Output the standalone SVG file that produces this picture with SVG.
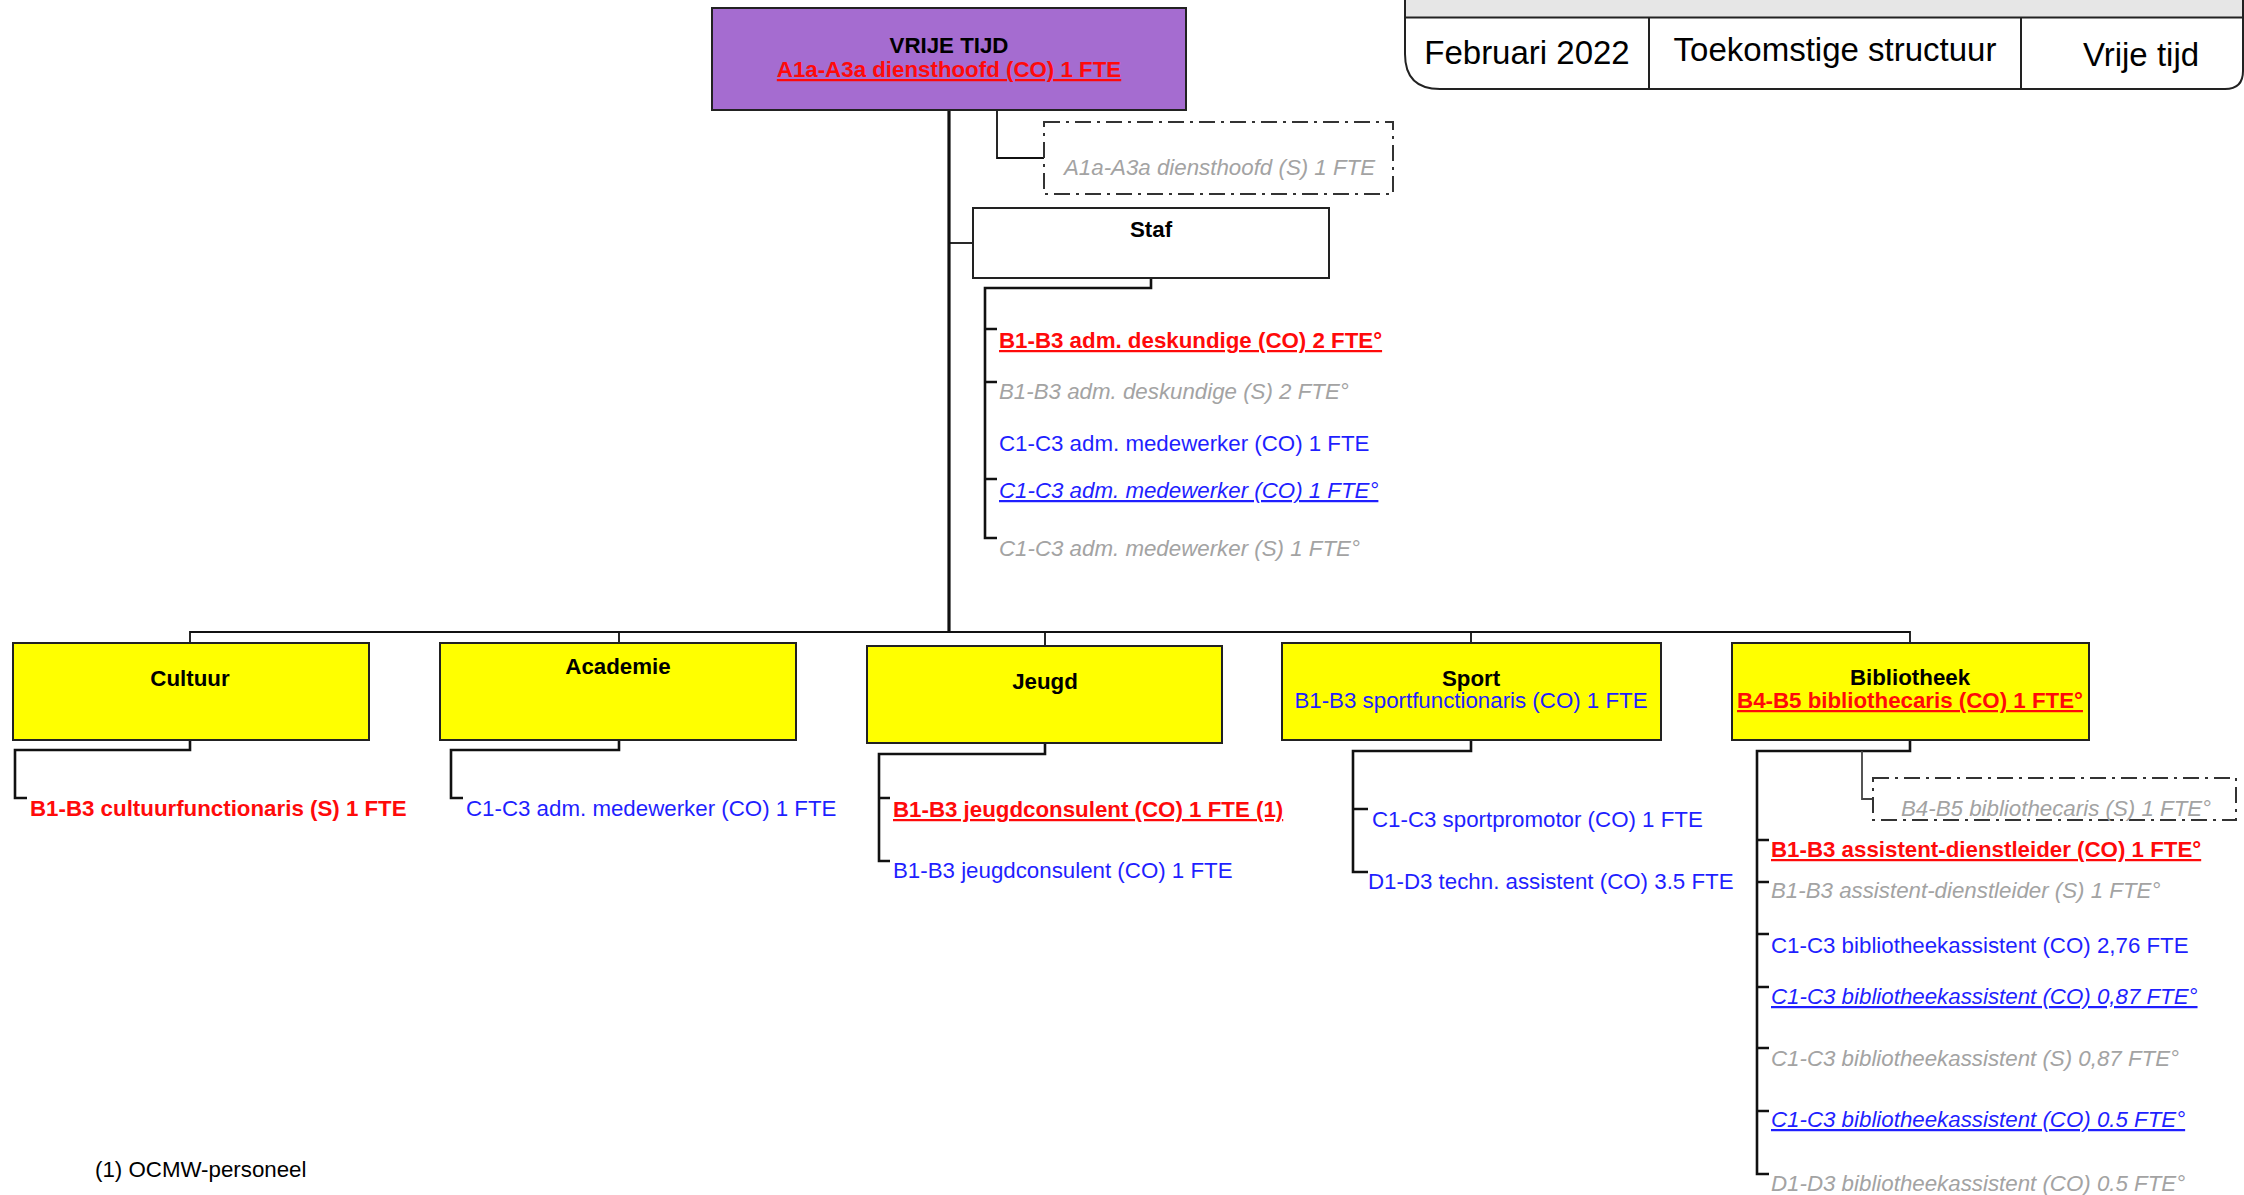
<svg xmlns="http://www.w3.org/2000/svg" width="2244" height="1195" viewBox="0 0 2244 1195">
<style>
text { font-family: "Liberation Sans", Arial, sans-serif; font-size: 22.3px; fill: #000; }
.b { font-weight: bold; }
.mid { text-anchor: middle; }
.red { fill: #ff0a0a; font-weight: bold; }
.blue { fill: #1f1fff; }
.gray { fill: #a3a3a3; font-style: italic; }
.it { font-style: italic; }
.u { text-decoration: underline; }
.dept { fill: #ffff00; stroke: #222; stroke-width: 2; }
.conn path { fill: none; stroke: #111; }
.thick { stroke-width: 3.2; }
.med { stroke-width: 2.6; }
.thin { stroke-width: 1.8; }
.dash { fill: #fff; stroke: #333; stroke-width: 2; stroke-dasharray: 16 6 3 6; }
.hdr { font-size: 33px; text-anchor: middle; }
</style>

<g id="header">
  <rect x="1405" y="0" width="838" height="17" fill="#e6e6e6"/>
  <path d="M1405,0 V54 Q1405,89 1440,89 H2225 Q2243,89 2243,71 V0" fill="none" stroke="#222" stroke-width="2"/>
  <path d="M1405,17.5 H2243 M1649,17.5 V89 M2021,17.5 V89" fill="none" stroke="#222" stroke-width="2"/>
  <text class="hdr" x="1527" y="64">Februari 2022</text>
  <text class="hdr" x="1835" y="61">Toekomstige structuur</text>
  <text class="hdr" x="2141" y="66">Vrije tijd</text>
</g>

<g class="conn" id="connectors">
  <path class="thick" d="M949,110 V632"/>
  <path class="thin" d="M997,110 V158 H1044"/>
  <path class="thin" d="M949,243 H973"/>
  <path class="med" d="M1151,278 V288 H985 V538 H997 M985,329 H997 M985,382 H997 M985,479 H997"/>
  <path class="thin" d="M190,642 V632 H1910 V643 M619,632 V642 M1045,632 V645 M1471,632 V643"/>
  <path class="med" d="M190,740 V750 H15 V798 H27"/>
  <path class="med" d="M619,740 V750 H451 V798 H463"/>
  <path class="med" d="M1045,743 V754 H879 V861 H890 M879,798 H890"/>
  <path class="med" d="M1471,740 V751 H1353 V872 H1368 M1353,809 H1368"/>
  <path class="med" d="M1910,740 V751 H1757 V1174 H1769 M1757,840 H1769 M1757,882 H1769 M1757,934 H1769 M1757,987 H1769 M1757,1048 H1769 M1757,1111 H1769"/>
  <path class="thin" d="M1862,751 V799 H1873" style="stroke:#444"/>
</g>

<g id="vrije-tijd">
  <rect x="712" y="8" width="474" height="102" fill="#a56cd0" stroke="#222" stroke-width="2"/>
  <text class="b mid" x="949" y="53">VRIJE TIJD</text>
  <text class="red u mid" x="949" y="77">A1a-A3a diensthoofd (CO) 1 FTE</text>
</g>

<g id="diensthoofd-s">
  <rect class="dash" x="1044" y="122" width="349" height="72"/>
  <text class="gray" x="1064" y="175">A1a-A3a diensthoofd (S) 1 FTE</text>
</g>

<g id="staf">
  <rect x="973" y="208" width="356" height="70" fill="#fff" stroke="#222" stroke-width="2"/>
  <text class="b mid" x="1151" y="237">Staf</text>
  <text class="red u" x="999" y="348">B1-B3 adm. deskundige (CO) 2 FTE°</text>
  <text class="gray" x="999" y="399">B1-B3 adm. deskundige (S) 2 FTE°</text>
  <text class="blue" x="999" y="451">C1-C3 adm. medewerker (CO) 1 FTE</text>
  <text class="blue it u" x="999" y="498">C1-C3 adm. medewerker (CO) 1 FTE°</text>
  <text class="gray" x="999" y="556">C1-C3 adm. medewerker (S) 1 FTE°</text>
</g>

<g id="cultuur">
  <rect class="dept" x="13" y="643" width="356" height="97"/>
  <text class="b mid" x="190" y="686">Cultuur</text>
  <text class="red" x="30" y="816">B1-B3 cultuurfunctionaris (S) 1 FTE</text>
</g>

<g id="academie">
  <rect class="dept" x="440" y="643" width="356" height="97"/>
  <text class="b mid" x="618" y="674">Academie</text>
  <text class="blue" x="466" y="816">C1-C3 adm. medewerker (CO) 1 FTE</text>
</g>

<g id="jeugd">
  <rect class="dept" x="867" y="646" width="355" height="97"/>
  <text class="b mid" x="1045" y="689">Jeugd</text>
  <text class="red u" x="893" y="817">B1-B3 jeugdconsulent (CO) 1 FTE (1)</text>
  <text class="blue" x="893" y="878">B1-B3 jeugdconsulent (CO) 1 FTE</text>
</g>

<g id="sport">
  <rect class="dept" x="1282" y="643" width="379" height="97"/>
  <text class="b mid" x="1471" y="686">Sport</text>
  <text class="blue mid" x="1471" y="708">B1-B3 sportfunctionaris (CO) 1 FTE</text>
  <text class="blue" x="1372" y="827">C1-C3 sportpromotor (CO) 1 FTE</text>
  <text class="blue" x="1368" y="889">D1-D3 techn. assistent (CO) 3.5 FTE</text>
</g>

<g id="bibliotheek">
  <rect class="dept" x="1732" y="643" width="357" height="97"/>
  <text class="b mid" x="1910" y="685">Bibliotheek</text>
  <text class="red u mid" x="1910" y="708">B4-B5 bibliothecaris (CO) 1 FTE°</text>
  <text class="red u" x="1771" y="857">B1-B3 assistent-dienstleider (CO) 1 FTE°</text>
  <text class="gray" x="1771" y="898">B1-B3 assistent-dienstleider (S) 1 FTE°</text>
  <text class="blue" x="1771" y="953">C1-C3 bibliotheekassistent (CO) 2,76 FTE</text>
  <text class="blue it u" x="1771" y="1004">C1-C3 bibliotheekassistent (CO) 0,87 FTE°</text>
  <text class="gray" x="1771" y="1066">C1-C3 bibliotheekassistent (S) 0,87 FTE°</text>
  <text class="blue it u" x="1771" y="1127">C1-C3 bibliotheekassistent (CO) 0.5 FTE°</text>
  <text class="gray" x="1771" y="1191">D1-D3 bibliotheekassistent (CO) 0.5 FTE°</text>
</g>

<g id="bibliothecaris-s">
  <rect class="dash" x="1873" y="778" width="363" height="42"/>
  <text class="gray" x="1901" y="816">B4-B5 bibliothecaris (S) 1 FTE°</text>
</g>

<g id="footnote">
  <text x="95" y="1177">(1) OCMW-personeel</text>
</g>
</svg>
